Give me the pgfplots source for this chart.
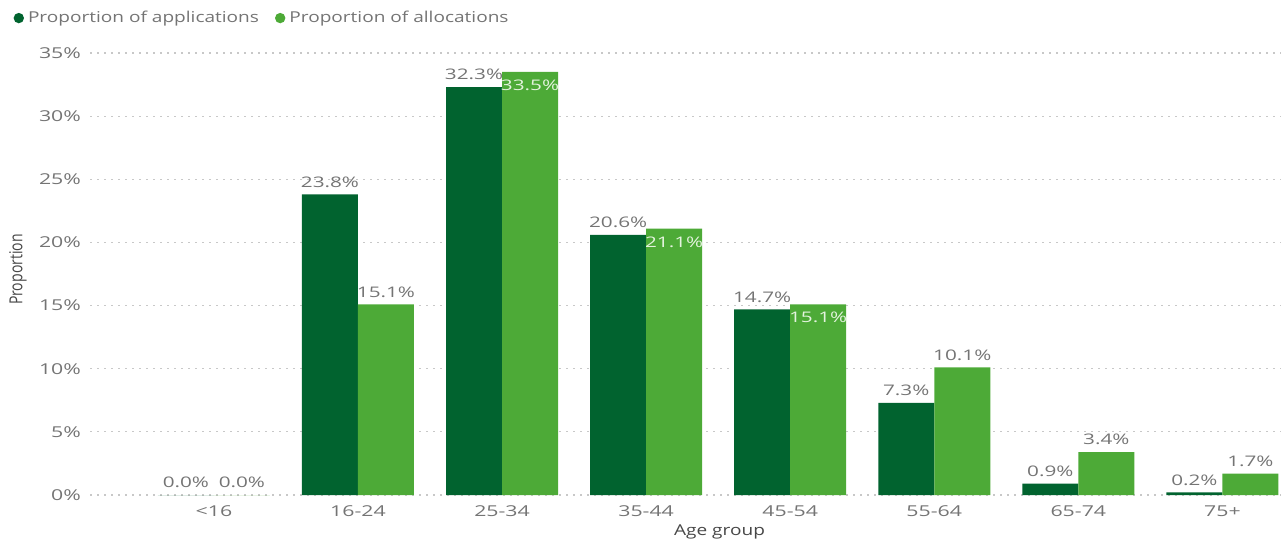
\documentclass[border=0pt]{standalone}
\usepackage{pgfplots}
\pgfplotsset{compat=1.18}
\usepackage{fontspec}
\setmainfont{Open Sans}
\newfontfamily\widefont{Open Sans}[FakeStretch=1.27]
\newfontfamily\numfont{Open Sans}[FakeStretch=1.42]
\newfontfamily\narrowfont{Open Sans}[FakeStretch=0.78]
\definecolor{dkg}{HTML}{01632F}
\definecolor{ltg}{HTML}{4DAA37}
\definecolor{txt}{HTML}{747474}
\definecolor{ttl}{HTML}{474747}
\definecolor{inl}{HTML}{E4F3DE}
\definecolor{gridc}{HTML}{C8C8C8}
\begin{document}
\begin{tikzpicture}
\useasboundingbox (0,0) rectangle (642pt,273pt);
\begin{axis}[
  at={(45pt,25.5pt)}, anchor=south west,
  scale only axis, width=595pt, height=221pt,
  ybar=0pt, bar width=28pt,
  xmin=-0.86, xmax=7.40, ymin=0, ymax=35,
  xtick={0,...,7},
  xticklabels={<16,16-24,25-34,35-44,45-54,55-64,65-74,75+},
  ytick={0,5,10,15,20,25,30,35},
  yticklabels={0\%,5\%,10\%,15\%,20\%,25\%,30\%,35\%},
  axis line style={draw=none},
  major tick length=0pt,
  ymajorgrids,
  grid style={gridc, line width=0.6pt, dash pattern=on 1pt off 2.5pt},
  tick label style={font=\numfont\fontsize{7.5}{9}\selectfont, text=txt},
  xticklabel style={yshift=-2pt},
  yticklabel style={xshift=-1pt},
  xlabel={Age group},
  xlabel style={at={(axis description cs:0.529,-0.0837)}, anchor=center, font=\widefont\fontsize{7.5}{9}\selectfont, text=ttl},
  ylabel={\narrowfont\fontsize{9}{10}\selectfont Proportion},
  ylabel style={at={(axis description cs:-0.0605,0.51)}, anchor=center, text=ttl},
  legend style={at={(axis description cs:-0.0642,1.079)}, anchor=west, draw=none, fill=none,
    font=\widefont\fontsize{7.5}{9}\selectfont, text=txt, legend columns=2,
    /tikz/every even column/.append style={column sep=6pt},
    inner sep=0pt, outer sep=0pt},
  legend cell align=left,
  legend image code/.code={\fill[#1] (2.5pt,0pt) circle (2.6pt);},
  nodes near coords={\pgfmathprintnumber[fixed,fixed zerofill,precision=1,assume math mode=true]{\pgfplotspointmeta}\%},
  every node near coord/.append style={font=\numfont\fontsize{7.3}{9}\selectfont, text=txt},
]
\addplot[fill=dkg, draw=none, bar shift=-14pt] coordinates {
  (0,0.0) (1,23.8) (2,32.3) (3,20.6) (4,14.7) (5,7.3) (6,0.9) (7,0.2)};
\addlegendentry{Proportion of applications}
\addplot[fill=ltg, draw=none, bar shift=14pt] coordinates {
  (0,0.0) (1,15.1) (5,10.1) (6,3.4) (7,1.7)};
\addlegendentry{Proportion of allocations}
\addplot[fill=ltg, draw=none, bar shift=14pt, forget plot,
  every node near coord/.append style={anchor=north, yshift=-0.5pt, text=inl}] coordinates {
  (2,33.5) (3,21.1) (4,15.1)};
\end{axis}
\end{tikzpicture}
\end{document}
